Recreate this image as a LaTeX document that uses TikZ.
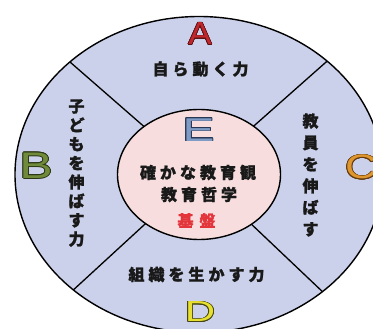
\documentclass[tikz,border=0pt]{standalone}
\usepackage{fontspec}
\usepackage{contour}
\usetikzlibrary{calc}
\setmainfont{Liberation Sans}
\newfontfamily\jp{Noto Sans CJK JP}[BoldFeatures={FakeBold=1.3}]
\contourlength{0.6pt}
\definecolor{outerfill}{RGB}{203,209,234}
\definecolor{innerfill}{RGB}{247,221,222}
\definecolor{Afill}{RGB}{192,39,45}\definecolor{Aline}{RGB}{90,16,16}
\definecolor{Bfill}{RGB}{110,138,58}\definecolor{Bline}{RGB}{45,55,20}
\definecolor{Cfill}{RGB}{224,150,46}\definecolor{Cline}{RGB}{100,60,15}
\definecolor{Dfill}{RGB}{232,224,48}\definecolor{Dline}{RGB}{70,70,20}
\definecolor{Efill}{RGB}{126,156,198}\definecolor{Eline}{RGB}{40,55,85}
\definecolor{baseRed}{RGB}{226,52,58}
\newcommand\bigletter[5]{\scalebox{#5}[1]{\fontsize{#4}{#4}\selectfont\contour{#2}{\textcolor{#1}{#3}}}}
\newcommand\gp{\hspace{4pt}}
\tikzset{
  jptext/.style={font=\jp\bfseries\fontsize{16}{19}\selectfont, text=black!90, inner sep=0pt},
  sepline/.style={line width=1.3pt, black},
  rim/.style={line width=1.4pt, black}
}
\begin{document}
\begin{tikzpicture}[x=1pt,y=-1pt]
\useasboundingbox (0,0) rectangle (373,329);
\fill[white] (0,0) rectangle (373,329);
\clip (0,0) rectangle (373,329);
\coordinate (c) at (199,174.5);
\coordinate (ul) at (70,62);
\coordinate (ur) at (325,63);
\coordinate (ll) at (70,293);
\coordinate (lr) at (326,295);
\fill[outerfill] (c) ellipse [x radius=184pt, y radius=158pt];
\begin{scope}
  \clip (c) ellipse [x radius=184pt, y radius=158pt];
  \draw[sepline] (c) -- ($(c)!1.6!(ul)$);
  \draw[sepline] (c) -- ($(c)!1.6!(ur)$);
  \draw[sepline] (c) -- ($(c)!1.6!(ll)$);
  \draw[sepline] (c) -- ($(c)!1.6!(lr)$);
\end{scope}
\draw[rim] (c) ellipse [x radius=184pt, y radius=158pt];
\draw[rim, fill=innerfill] (c) ellipse [x radius=81.5pt, y radius=65pt];
% letters
\node[inner sep=0pt] (A) at (200,34) {\bigletter{Afill}{Aline}{A}{32}{1.1}};
\node[inner sep=0pt] (B) at (36,166) {\bigletter{Bfill}{Bline}{B}{37}{1.35}};
\node[inner sep=0pt] (C) at (361,167.5) {\bigletter{Cfill}{Cline}{C}{34}{1.3}};
\node[inner sep=0pt] (D) at (200,312) {\bigletter{Dfill}{Dline}{D}{29}{1.45}};
\node[inner sep=0pt] (E) at (198.5,130) {\bigletter{Efill}{Eline}{E}{33}{1.45}};
% texts
\node[jptext] (ta) at (200.5,69) {自\gp ら\gp 動\gp く\gp 力};
\node[jptext, align=center] (tb) at (76.5,173) {子\\ど\\も\\を\\伸\\ば\\す\\力};
\node[jptext, align=center, font=\jp\bfseries\fontsize{16}{21.6}\selectfont] (tc) at (310.5,175) {教\\員\\を\\伸\\ば\\す};
\node[jptext] (td) at (196.5,274.5) {組\gp 織\gp を\gp 生\gp か\gp す\gp 力};
\node[jptext] (te1) at (198,172.5) {確\gp か\gp な\gp 教\gp 育\gp 観};
\node[jptext] (te2) at (199,194.5) {教\gp 育\gp 哲\gp 学};
\node[jptext, text=baseRed] (te3) at (196.5,220.5) {基\hspace{6pt}盤};
\end{tikzpicture}
\end{document}
